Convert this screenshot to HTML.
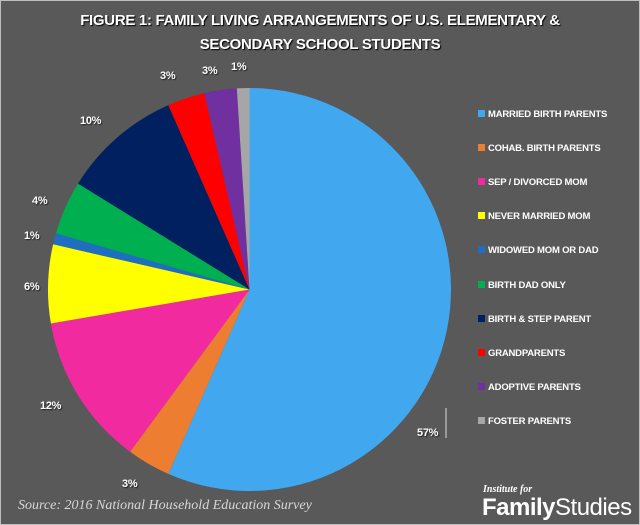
<!DOCTYPE html>
<html><head><style>
body{margin:0;width:640px;height:525px;overflow:hidden;background:#fff}
#c{position:absolute;left:0;top:0;width:638px;height:523px;background:#595959;border:1px solid #bfbfbf}
.t{position:absolute;left:0;width:640px;text-align:center;color:#fff;font:bold 15px "Liberation Sans",sans-serif;text-shadow:1px 1px 1px #000;letter-spacing:-0.3px}
.l{position:absolute;color:#fff;font:bold 11px "Liberation Sans",sans-serif;text-shadow:1px 1px 1px #222;letter-spacing:-0.3px}
.lg{position:absolute;left:478px;color:#fff;font:bold 9.5px "Liberation Sans",sans-serif;letter-spacing:-0.2px;white-space:nowrap}
.lg i{display:inline-block;width:7px;height:7px;margin-right:3px;vertical-align:0}
</style></head><body><div id="c"></div>
<div class="t" style="top:12px">FIGURE 1: FAMILY LIVING ARRANGEMENTS OF U.S. ELEMENTARY &amp;</div>
<div class="t" style="top:36px">SECONDARY SCHOOL STUDENTS</div>
<svg id="s" width="640" height="525" style="position:absolute;left:0;top:0"></svg>
<div class="l" style="left:417px;top:427px">57%</div>
<div class="l" style="left:122px;top:478px">3%</div>
<div class="l" style="left:40px;top:400px">12%</div>
<div class="l" style="left:24px;top:281px">6%</div>
<div class="l" style="left:24px;top:230px">1%</div>
<div class="l" style="left:32px;top:195px">4%</div>
<div class="l" style="left:80px;top:115px">10%</div>
<div class="l" style="left:160px;top:70px">3%</div>
<div class="l" style="left:202px;top:65px">3%</div>
<div class="l" style="left:231px;top:61px">1%</div>
<div id="lg"></div>
<div style="position:absolute;left:18px;top:498px;color:#d8d8d8;font:italic 14px 'Liberation Serif',serif">Source: 2016 National Household Education Survey</div>
<div style="position:absolute;left:483px;top:484px;color:#fff;font:italic bold 10px 'Liberation Serif',serif">Institute for</div>
<div style="position:absolute;left:482px;top:494px;color:#fff;font:24px 'Liberation Sans',sans-serif;letter-spacing:-0.5px"><b>Family</b>Studies</div>
<script>
var d=[[56.6,"#41a8f0","MARRIED BIRTH PARENTS"],[3.5,"#ed7d31","COHAB. BIRTH PARENTS"],[12.2,"#f22aa0","SEP / DIVORCED MOM"],[6.3,"#ffff00","NEVER MARRIED MOM"],[0.9,"#1f6fc0","WIDOWED MOM OR DAD"],[4.3,"#00b050","BIRTH DAD ONLY"],[9.6,"#002060","BIRTH & STEP PARENT"],[3.0,"#ff0000","GRANDPARENTS"],[2.6,"#7030a0","ADOPTIVE PARENTS"],[1.0,"#a6a6a6","FOSTER PARENTS"]];
var cx=249.5,cy=289.5,r=201.5,a=0,s="",lg="";
d.forEach(function(e,i){var b=a+e[0]*3.6;var p=function(t){t=t*Math.PI/180;return (cx+r*Math.sin(t)).toFixed(2)+","+(cy-r*Math.cos(t)).toFixed(2)};
s+='<path d="M'+cx+','+cy+'L'+p(a)+'A'+r+','+r+' 0 '+(b-a>180?1:0)+' 1 '+p(b)+'Z" fill="'+e[1]+'"/>';a=b;
lg+='<div class="lg" style="top:'+(109+i*34.1)+'px"><i style="background:'+e[1]+'"></i>'+e[2].replace("&","&amp;")+'</div>';});
s+='<line x1="446" y1="408" x2="446" y2="438" stroke="#ddd" stroke-width="1"/>';
document.getElementById("s").innerHTML=s;document.getElementById("lg").innerHTML=lg;
</script>
</body></html>
